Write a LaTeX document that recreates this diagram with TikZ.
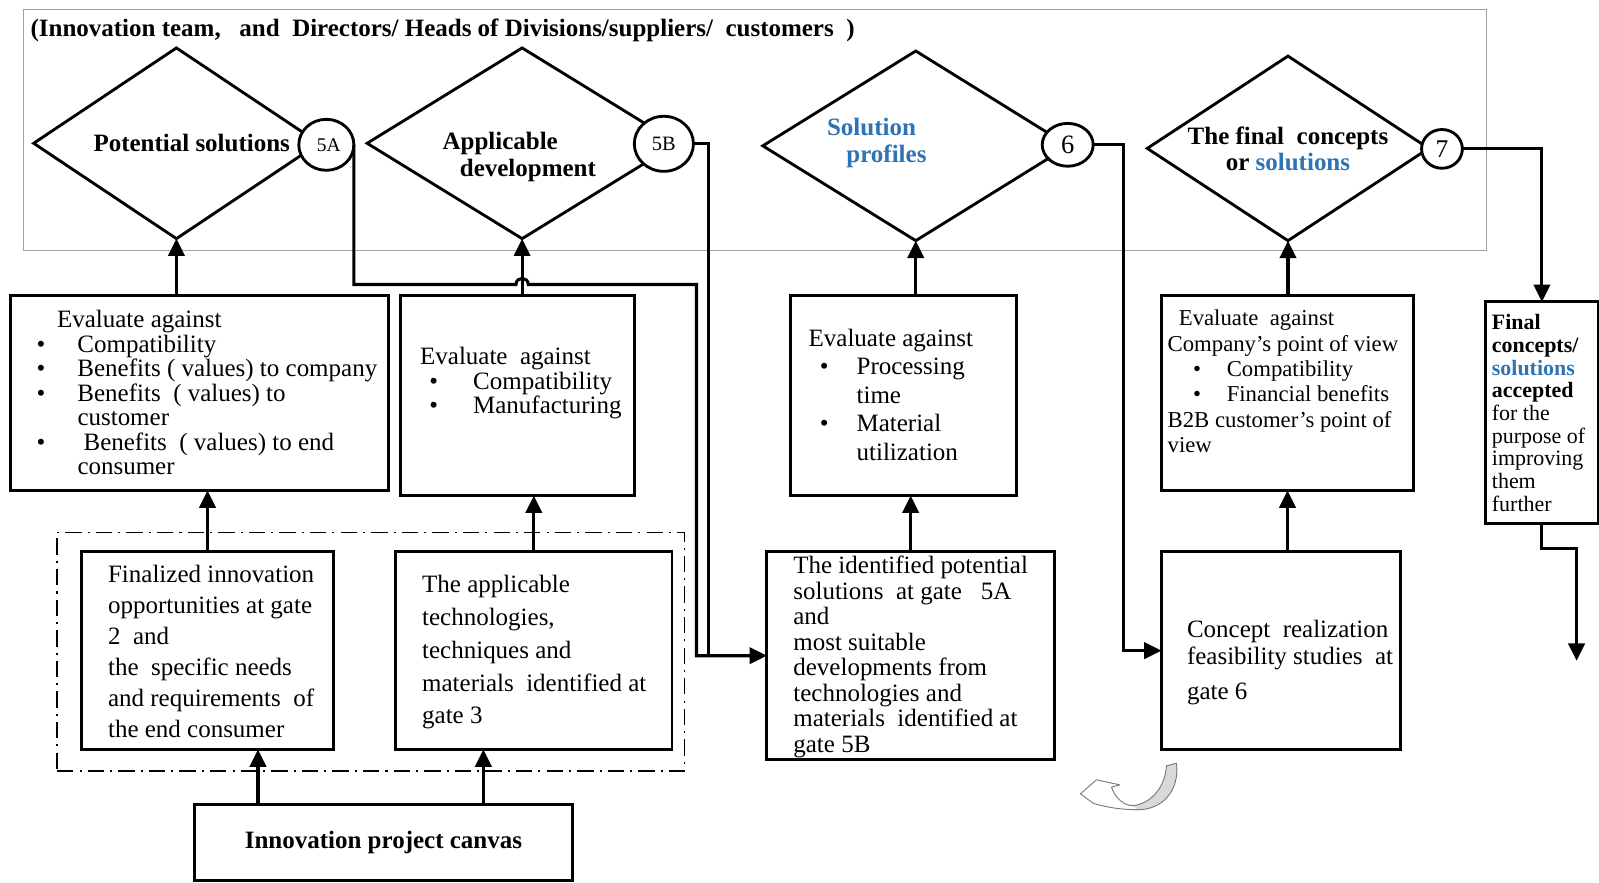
\documentclass[tikz,border=0pt]{standalone}
\usepackage{fontspec}
\setmainfont{Liberation Serif}
\usetikzlibrary{arrows.meta,shapes.geometric,calc}
\definecolor{accentblue}{RGB}{46,116,181}
\definecolor{framegray}{RGB}{160,160,160}
\definecolor{shadegray}{RGB}{120,120,120}

% bullet in a fixed-width slot, and a fixed indent
\newcommand\bul[1][40]{\makebox[#1pt][l]{\textbullet}}
\newcommand\ind[1]{\hspace*{#1pt}}

\begin{document}
\begin{tikzpicture}[x=1pt,y=-1pt,
  every node/.style={inner sep=0pt, outer sep=0pt},
  box/.style={draw, line width=2.8pt, fill=white, anchor=north west},
  gate/.style={diamond, draw, line width=2.8pt, fill=white},
  badge/.style={ellipse, draw, line width=2.8pt, fill=white},
  conn/.style={line width=3pt, -{Triangle[length=17pt,width=16pt]}},
  wire/.style={line width=3pt},
  body/.style={align=left, anchor=west, font=\fontsize{24.5}{24}\selectfont},
  gatetext/.style={font=\bfseries\fontsize{24.5}{26}\selectfont},
]
\fill[white] (0,0) rectangle (1568,865);
\useasboundingbox (0,0) rectangle (1568,865);

% ---- participants frame ----
\node[draw=framegray, line width=1.2pt, anchor=north west,
      minimum width=1435pt, minimum height=237pt] (team) at (23,9) {};
\node[anchor=west, font=\bfseries\fontsize{24.5}{26}\selectfont] (title) at (30,30)
  {(Innovation team,\ \ \ and\ \ Directors/ Heads of Divisions/suppliers/\ \ customers\ \ )};

% ---- gates ----
\node[gate, minimum width=280pt, minimum height=187pt] (d1) at (173,140.5) {};
\node[gate, minimum width=304pt, minimum height=187pt] (d2) at (512,140.5) {};
\node[gate, minimum width=300pt, minimum height=186pt] (d3) at (898,143) {};
\node[gate, minimum width=276pt, minimum height=181pt] (d4) at (1263,145.5) {};

\node[gatetext] (d1t) at (188,140) {Potential solutions};
\node[gatetext, align=left, anchor=west] (d2t) at (434,154) {Applicable\\\ind{17}development};
\node[gatetext, align=left, anchor=west, text=accentblue] (d3t) at (811,140) {Solution\\\ind{19}profiles};
\node[gatetext, align=center] (d4t) at (1263,146) {The final\ \ concepts\\or \textcolor{accentblue}{solutions}};

\node[badge, minimum width=54pt, minimum height=50pt, font=\fontsize{19}{19}\selectfont] (g5a) at (320,142) {\ 5A};
\node[badge, minimum width=58pt, minimum height=54pt, font=\fontsize{20}{20}\selectfont] (g5b) at (651,141) {5B};
\node[badge, minimum width=50pt, minimum height=42pt, font=\fontsize{26}{26}\selectfont] (g6) at (1047,142) {6};
\node[badge, minimum width=40pt, minimum height=38pt, font=\fontsize{25}{25}\selectfont] (g7) at (1414,146) {7};

% ---- evaluation boxes ----
\node[box, minimum width=371pt, minimum height=191pt] (b1) at (10,290) {};
\node[body] (b1t) at (36,385) {\ind{20}Evaluate against\\
  \bul Compatibility\\
  \bul Benefits ( values) to company\\
  \bul Benefits\ \ ( values) to\\
  \ind{40}customer\\
  \bul\ind{6}Benefits\ \ ( values) to end\\
  \ind{40}consumer};

\node[box, minimum width=229pt, minimum height=196pt] (b2) at (393,290) {};
\node[body] (b2t) at (412,376) {Evaluate\ \ against\\
  \ind{9}\bul[43]Compatibility\\
  \ind{9}\bul[43]Manufacturing};

\node[box, minimum width=222pt, minimum height=196pt] (b3) at (775,290) {};
\node[body, font=\fontsize{24.5}{28}\selectfont] (b3t) at (793,387) {Evaluate against\\
  \ind{11}\bul[36]Processing\\
  \ind{47}time\\
  \ind{11}\bul[36]Material\\
  \ind{47}utilization};

\node[box, minimum width=247pt, minimum height=191pt] (b4) at (1139,290) {};
\node[body, font=\fontsize{22.3}{24.8}\selectfont] (b4t) at (1145,374) {\ind{11}Evaluate\ \ against\\
  Company’s point of view\\
  \ind{25}\bul[33]Compatibility\\
  \ind{25}\bul[33]Financial benefits\\
  B2B customer’s point of\\
  view};

\node[box, minimum width=110pt, minimum height=217pt] (fin) at (1457,296) {};
\node[body, font=\fontsize{21.5}{22.3}\selectfont] (fint) at (1463,405) {\textbf{Final}\\
  \textbf{concepts/}\\
  \textbf{\textcolor{accentblue}{solutions}}\\
  \textbf{accepted}\\
  for the\\
  purpose of\\
  improving\\
  them\\
  further};

% ---- inputs ----
\node[draw, line width=1.5pt, dash pattern=on 16pt off 6pt on 2pt off 6pt, anchor=north west,
      minimum width=615pt, minimum height=234pt] (grp) at (56,522) {};

\node[box, minimum width=247pt, minimum height=194pt] (c1) at (80,541) {};
\node[body, font=\fontsize{24.5}{30.4}\selectfont] (c1t) at (106,639) {Finalized innovation\\
  opportunities at gate\\
  2\ \ and\\
  the\ \ specific needs\\
  and requirements\ \ of\\
  the end consumer};

\node[box, minimum width=271pt, minimum height=194pt] (c2) at (388,541) {};
\node[body, font=\fontsize{24.5}{32.25}\selectfont] (c2t) at (414,639.5) {The applicable\\
  technologies,\\
  techniques and\\
  materials\ \ identified at\\
  gate 3};

\node[box, minimum width=282pt, minimum height=204pt] (c3) at (752,541) {};
\node[body, font=\fontsize{24.5}{25}\selectfont] (c3t) at (778,644) {The identified potential\\
  solutions\ \ at gate\ \ \ 5A\\
  and\\
  most suitable\\
  developments from\\
  technologies and\\
  materials\ \ identified at\\
  gate 5B};

\node[box, minimum width=234pt, minimum height=194pt] (c4) at (1139,541) {};
\node[body, font=\fontsize{24.5}{26}\selectfont] (c4t) at (1164,650) {Concept\ \ realization\\
  feasibility studies\ \ at\\[9pt]
  gate 6};

\node[box, minimum width=370pt, minimum height=74pt, font=\bfseries\fontsize{24.5}{26}\selectfont]
  (canvas) at (191,789) {Innovation project canvas};

% ---- connectors ----
\coordinate (cv1) at ([xshift=62pt]canvas.north west);
\coordinate (cv2) at ([xshift=283pt]canvas.north west);
\draw[conn] (cv1) -- (cv1 |- c1.south);
\draw[conn] (cv2) -- (cv2 |- c2.south);

\draw[conn] (c1.north) -- (c1.north |- b1.south);
\draw[conn] (c2.north) -- (c2.north |- b2.south);
\draw[conn] (c3.north) -- (c3.north |- b3.south);
\draw[conn] (b4.south |- c4.north) -- (b4.south);

\draw[conn] (d1.south |- b1.north) -- (d1.south);
\draw[conn] (d2.south |- b2.north) -- (d2.south);
\draw[conn] (d3.south |- b3.north) -- (d3.south);
\draw[conn] (d4.south |- b4.north) -- (d4.south);

% gate 5A output, hopping over the 5B feed line
\draw[conn] (g5a.east) |- (506,279) .. controls (506,271) and (518,271) .. (518,279)
  -- (683,279) |- (c3.west);
\draw[wire] (g5b.east) -| ($(c3.west)+(-57,0)$);

\draw[conn] (g6.east) -| ($(c4.west)+(-37,0)$) -- (c4.west);
\draw[conn] (g7.east) -| (fin.north);

\coordinate (finout) at (1546,648);
\draw[conn] (fin.south) -- ++(0,25) -| (finout);

% ---- curved return arrow ----
\fill[gray!30] (1111,790) .. controls (1130,788) and (1143,770) .. (1143.8,751)
  -- (1153.6,748.4) .. controls (1157,775) and (1140,794) .. (1116,794) -- cycle;
\draw[shadegray, line width=0.9pt, line join=round]
  (1059.5,778.4) -- (1075.2,764.7) -- (1098,769.6) -- (1089.9,771.9)
  .. controls (1094,783) and (1102,790) .. (1111,790)
  .. controls (1130,788) and (1143,770) .. (1143.8,751)
  -- (1153.6,748.4)
  .. controls (1157,775) and (1140,794) .. (1116,794)
  .. controls (1098,794) and (1082,791) .. (1071.9,787.6) -- cycle;
\end{tikzpicture}
\end{document}
